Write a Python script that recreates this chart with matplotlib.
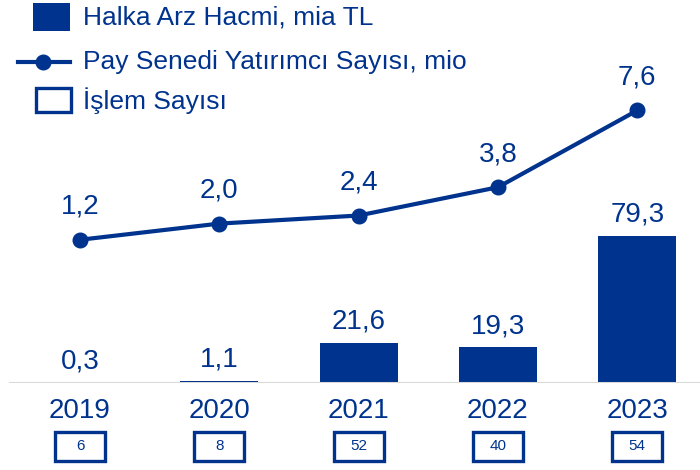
import matplotlib
matplotlib.use("Agg")
import matplotlib.pyplot as plt
import matplotlib.transforms as mtransforms
from matplotlib.patches import Rectangle
from matplotlib.lines import Line2D

plt.rcParams['font.family'] = ['Liberation Sans', 'DejaVu Sans']

NAVY = "#00338D"

years = ["2019", "2020", "2021", "2022", "2023"]
ipo_volume = [0.3, 1.1, 21.6, 19.3, 79.3]          # Halka Arz Hacmi, mia TL
investors = [1.2, 2.0, 2.4, 3.8, 7.6]              # Pay Senedi Yatirimci Sayisi, mio
deal_count = [6, 8, 52, 40, 54]                    # Islem Sayisi
legend_labels = ["Halka Arz Hacmi, mia TL", "Pay Senedi Yatırımcı Sayısı, mio", "İşlem Sayısı"]

W, H = 700, 470


def fmt(v):
    return f"{v:.1f}".replace(".", ",")


def fx(px):
    return px / W


def fy(py):
    # pixel from top -> figure fraction
    return 1 - py / H


fig = plt.figure(figsize=(7, 4.7), dpi=100)
# axes bottom sits on the baseline (y=383px from top)
ax = fig.add_axes([0, 87 / H, 1, 383 / H])
ax2 = ax.twinx()

x = list(range(len(years)))

# bars
ax.bar(x, ipo_volume, width=0.56, color=NAVY, zorder=2)
ax.set_ylim(0, 383 / 1.855)
ax.set_xlim(-80 / 139.3, 620 / 139.3)
for xi, v in zip(x, ipo_volume):
    ax.annotate(fmt(v), (xi, v), xytext=(0, 21), textcoords="offset pixels",
                ha="center", va="center", fontsize=20, color=NAVY)

# baseline
ax.axhline(0, xmin=10 / W, xmax=1, color="#d9d9d9", lw=2.2, zorder=3)

# line on its own scale
ax2.plot(x, investors, color=NAVY, lw=3, marker="o", markersize=10.5, zorder=4)
ax2.set_ylim(-119 / 20.2, 264 / 20.2)
for xi, v in zip(x, investors):
    ax2.annotate(fmt(v), (xi, v), xytext=(0, 33), textcoords="offset pixels",
                 ha="center", va="center", fontsize=20, color=NAVY)

for a in (ax, ax2):
    for s in a.spines.values():
        s.set_visible(False)
    a.set_yticks([])

# year labels
ax.set_xticks(x)
ax.set_xticklabels(years, fontsize=20, color=NAVY)
ax.tick_params(axis="x", length=0, pad=11)

# deal count boxes
trans = mtransforms.blended_transform_factory(ax.transData, ax.transAxes)
bw = 50 / 139.3
for xi, n in zip(x, deal_count):
    ax.add_patch(Rectangle((xi - bw / 2, -78 / 383), bw, 29 / 383, transform=trans,
                           facecolor="white", edgecolor=NAVY, lw=2.4, clip_on=False))
    ax.text(xi, -63.5 / 383, str(n), transform=trans, ha="center", va="center",
            fontsize=11, color=NAVY)

# legend, drawn by hand so the keys match the original
fig.add_artist(Rectangle((fx(33), fy(31)), fx(37), 28 / H, transform=fig.transFigure,
                         facecolor=NAVY, edgecolor="none"))
fig.add_artist(Line2D([fx(18), fx(70)], [fy(62), fy(62)], transform=fig.transFigure,
                      color=NAVY, lw=3))
fig.add_artist(Line2D([fx(43)], [fy(62)], transform=fig.transFigure,
                      color=NAVY, marker="o", markersize=10.5))
fig.add_artist(Rectangle((fx(36), fy(112)), fx(35), 24 / H, transform=fig.transFigure,
                         facecolor="white", edgecolor=NAVY, lw=2.4))
for label, py in zip(legend_labels, [18, 62, 101]):
    fig.text(fx(83), fy(py), label, ha="left", va="center", fontsize=19, color=NAVY)

fig.savefig("out.png", dpi=100)
